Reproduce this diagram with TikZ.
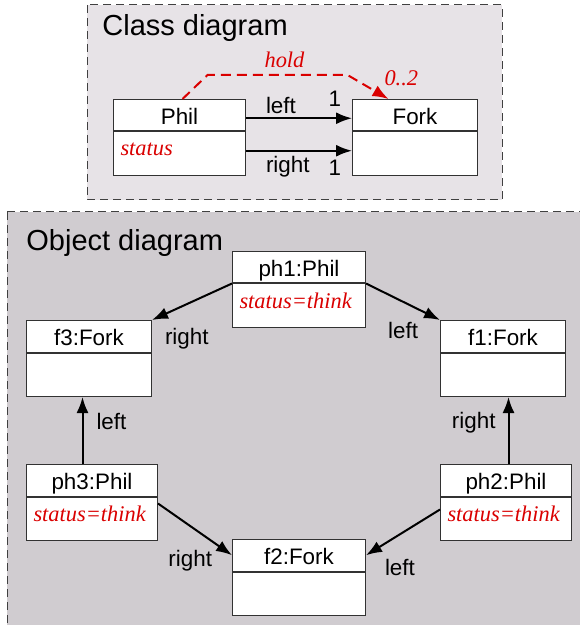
\documentclass[tikz,border=0pt]{standalone}
\usepackage{fontspec}
\setmainfont{Liberation Sans}
\newfontfamily\attrfont{Liberation Serif}
\usetikzlibrary{arrows.meta,positioning}

\definecolor{classbg}{RGB}{231,227,231}
\definecolor{objectbg}{RGB}{208,204,208}
\definecolor{attrred}{RGB}{218,0,0}
\definecolor{boxline}{RGB}{50,50,50}

\newcommand\attrtext[1]{{\attrfont\itshape\color{attrred}#1}}

\tikzset{
  umlhead/.style={
    % The shape:
    rectangle,
    % The size:
    minimum width=#1,
    minimum height=15.75pt,
    % The border:
    draw=boxline,
    line width=0.5pt,
    % The filling:
    fill=white,
    % text sits a bit low in the box
    inner ysep=0pt,
    text height=10.5pt,
    text depth=1pt,
  },
  umlbody/.style={
    rectangle,
    text width=#1,
    align=left,
    draw=boxline,
    line width=0.5pt,
    fill=white,
    % attributes start at the top left
    inner xsep=3.5pt,
    inner ysep=0pt,
    text height=12pt,
    text depth=9.75pt,
  },
  frame/.style={
    draw=black!75,
    line width=0.5pt,
    dash pattern=on 4pt off 2.5pt,
  },
  title/.style={
    anchor=base west,
    inner sep=0pt,
    font=\fontsize{14.5pt}{17pt}\selectfont,
  },
  conn/.style={
    -{Latex[length=8pt,width=6pt]},
    line width=1pt,
  },
  lbl/.style={
    inner sep=0pt,
  },
}

\begin{document}
\begin{tikzpicture}[x=0.5pt, y=-0.5pt, font=\fontsize{11.2pt}{13pt}\selectfont]

  \useasboundingbox (0, 0) rectangle (579, 625);

  % the two frames
  \draw [frame, fill=classbg] (87, 5) rectangle (502, 200);
  \draw [frame, fill=objectbg] (7, 212) rectangle (600, 650);

  \node at (102, 36) (class title) [title] {Class diagram};
  \node at (26, 251) (object title) [title] {Object diagram};

  % class diagram
  \node at (113, 99) (phil) [umlhead=66pt, anchor=north west] {Phil};
  \node (phil attr) [umlbody=59pt, below=0pt of phil] {\attrtext{status}};

  \node at (352, 99) (fork) [umlhead=62.5pt, anchor=north west] {Fork};
  \node (fork attr) [umlbody=55.5pt, below=0pt of fork] {};

  \draw [conn] ([yshift=-1.5pt]phil.east) to
    node [lbl, pos=0, anchor=base west, xshift=9.5pt, yshift=2.5pt] {left}
    node [lbl, pos=1, anchor=base east, xshift=-5pt, yshift=6pt] {1}
    ([yshift=-1.5pt]fork.west);

  \draw [conn] ([yshift=1.5pt]phil attr.east) to
    node [lbl, pos=0, anchor=base west, xshift=9.5pt, yshift=-11pt] {right}
    node [lbl, pos=1, anchor=base east, xshift=-5pt, yshift=-12.5pt] {1}
    ([yshift=1.5pt]fork attr.west);

  \draw [conn, color=attrred, dash pattern=on 5pt off 3pt]
    ([xshift=1.5pt]phil.north) to ++(25, -24) to
    node [lbl, midway, anchor=base, xshift=3.5pt, yshift=3.5pt] {\attrtext{hold}}
    ++(140, 0) to
    node [lbl, pos=1, anchor=base west, xshift=-2.5pt, yshift=6.5pt] {\attrtext{0..2}}
    ([xshift=-13.25pt]fork.north);

  % object diagram
  \node at (232, 251) (ph1) [umlhead=66.5pt, anchor=north west] {ph1:Phil};
  \node (ph1 attr) [umlbody=59.5pt, below=0pt of ph1] {\attrtext{status=think}};

  \node at (26, 320) (f3) [umlhead=62.5pt, anchor=north west] {f3:Fork};
  \node (f3 attr) [umlbody=55.5pt, below=0pt of f3] {};

  \node at (440, 320) (f1) [umlhead=62.5pt, anchor=north west] {f1:Fork};
  \node (f1 attr) [umlbody=55.5pt, below=0pt of f1] {};

  \node at (26, 464) (ph3) [umlhead=65.5pt, anchor=north west] {ph3:Phil};
  \node (ph3 attr) [umlbody=58.5pt, below=0pt of ph3] {\attrtext{status=think}};

  \node at (440, 464) (ph2) [umlhead=65.5pt, anchor=north west] {ph2:Phil};
  \node (ph2 attr) [umlbody=58.5pt, below=0pt of ph2] {\attrtext{status=think}};

  \node at (232, 539) (f2) [umlhead=66.5pt, anchor=north west] {f2:Fork};
  \node (f2 attr) [umlbody=59.5pt, below=0pt of f2] {};

  \draw [conn] (ph1.south west) to
    node [lbl, pos=1, anchor=base west, xshift=6pt, yshift=-12pt] {right}
    (f3.north east);
  \draw [conn] (ph1.south east) to
    node [lbl, pos=1, anchor=base east, xshift=-10.5pt, yshift=-9pt] {left}
    (f1.north west);

  \coordinate (ph3 up) at ([xshift=-4.75pt]ph3.north);
  \coordinate (ph2 up) at ([xshift=1.25pt]ph2.north);

  \draw [conn] (ph3 up) to
    node [lbl, pos=1, anchor=base west, xshift=6.5pt, yshift=-16pt] {left}
    (ph3 up |- f3 attr.south);
  \draw [conn] (ph2 up) to
    node [lbl, pos=1, anchor=base east, xshift=-6pt, yshift=-15.5pt] {right}
    (ph2 up |- f1 attr.south);

  \draw [conn] ([yshift=-3.5pt]ph3 attr.north east) to
    node [lbl, pos=1, anchor=base east, xshift=-9.5pt, yshift=-5.5pt] {right}
    (f2.west);
  \draw [conn] ([yshift=-6.5pt]ph2 attr.north west) to
    node [lbl, pos=1, anchor=base west, xshift=9pt, yshift=-10pt] {left}
    (f2.east);

\end{tikzpicture}
\end{document}
